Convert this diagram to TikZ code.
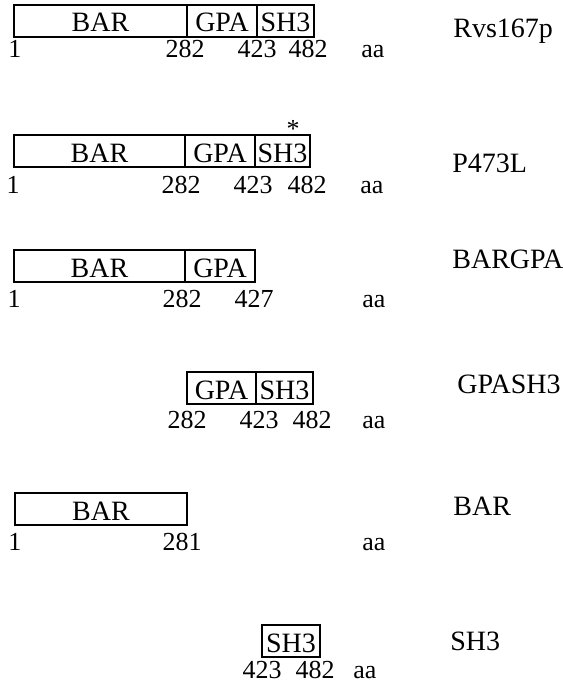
\documentclass[tikz,border=0pt]{standalone}
\usepackage{fontspec}
\setmainfont{Liberation Serif}
\usetikzlibrary{positioning}
\tikzset{
    dom/.style={rectangle,draw,line width=0.6pt,minimum height=16pt,inner sep=0pt,outer sep=0pt,text height=11pt,text depth=0pt,anchor=north west,font=\fontsize{14}{16}\selectfont},
    numlbl/.style={anchor=base,inner sep=0pt},
    aalbl/.style={anchor=base west,inner sep=0pt},
    protlbl/.style={anchor=base west,inner sep=0pt,font=\fontsize{14}{16}\selectfont},
}
\begin{document}
\begin{tikzpicture}[x=0.5pt,y=-0.5pt,every node/.style={font=\fontsize{13}{15}\selectfont}]
\useasboundingbox (0,0) rectangle (562,685);
% Rvs167p
\node[dom,minimum width=86.5pt] (wtbar) at (14,5) {BAR};
\node[dom,minimum width=35pt,right=0pt of wtbar] (wtgpa) {GPA};
\node[dom,minimum width=28.5pt,right=0pt of wtgpa] (wtsh3) {SH3};
\node[numlbl] (wtA) at (15,57) {1};
\node[numlbl] (wtB) at (185,57) {282};
\node[numlbl] (wtC) at (257,57) {423};
\node[numlbl] (wtD) at (308,57) {482};
\node[aalbl] (wtaa) at (361,57) {aa};
\node[protlbl] (wtname) at (453,37) {Rvs167p};
% P473L
\node[dom,minimum width=85.5pt] (ptbar) at (14,135) {BAR};
\node[dom,minimum width=35pt,right=0pt of ptbar] (ptgpa) {GPA};
\node[dom,minimum width=27.5pt,right=0pt of ptgpa] (ptsh3) {SH3};
\node[numlbl] (ptstar) at (293,137) {*};
\node[numlbl] (ptA) at (13,193) {1};
\node[numlbl] (ptB) at (181,193) {282};
\node[numlbl] (ptC) at (253,193) {423};
\node[numlbl] (ptD) at (307,193) {482};
\node[aalbl] (ptaa) at (360,193) {aa};
\node[protlbl] (ptname) at (452,172) {P473L};
% BARGPA
\node[dom,minimum width=85.5pt] (bgbar) at (14,250) {BAR};
\node[dom,minimum width=35pt,right=0pt of bgbar] (bggpa) {GPA};
\node[numlbl] (bgA) at (14,307) {1};
\node[numlbl] (bgB) at (182,307) {282};
\node[numlbl] (bgC) at (254,307) {427};
\node[aalbl] (bgaa) at (362,307) {aa};
\node[protlbl] (bgname) at (452,268) {BARGPA};
% GPASH3
\node[dom,minimum width=34.5pt] (gsgpa) at (187,372) {GPA};
\node[dom,minimum width=28.5pt,right=0pt of gsgpa] (gssh3) {SH3};
\node[numlbl] (gsB) at (187,428) {282};
\node[numlbl] (gsC) at (259,428) {423};
\node[numlbl] (gsD) at (312,428) {482};
\node[aalbl] (gsaa) at (362,428) {aa};
\node[protlbl] (gsname) at (457,393) {GPASH3};
% BAR
\node[dom,minimum width=86pt] (brbar) at (15,493) {BAR};
\node[numlbl] (brA) at (15,550) {1};
\node[numlbl] (brB) at (182,550) {281};
\node[aalbl] (braa) at (362,550) {aa};
\node[protlbl] (brname) at (453,515) {BAR};
% SH3
\node[dom,minimum width=29pt] (shsh3) at (262,625) {SH3};
\node[numlbl] (shC) at (262,678) {423};
\node[numlbl] (shD) at (315,678) {482};
\node[aalbl] (shaa) at (353,678) {aa};
\node[protlbl] (shname) at (450,650) {SH3};
\end{tikzpicture}
\end{document}
